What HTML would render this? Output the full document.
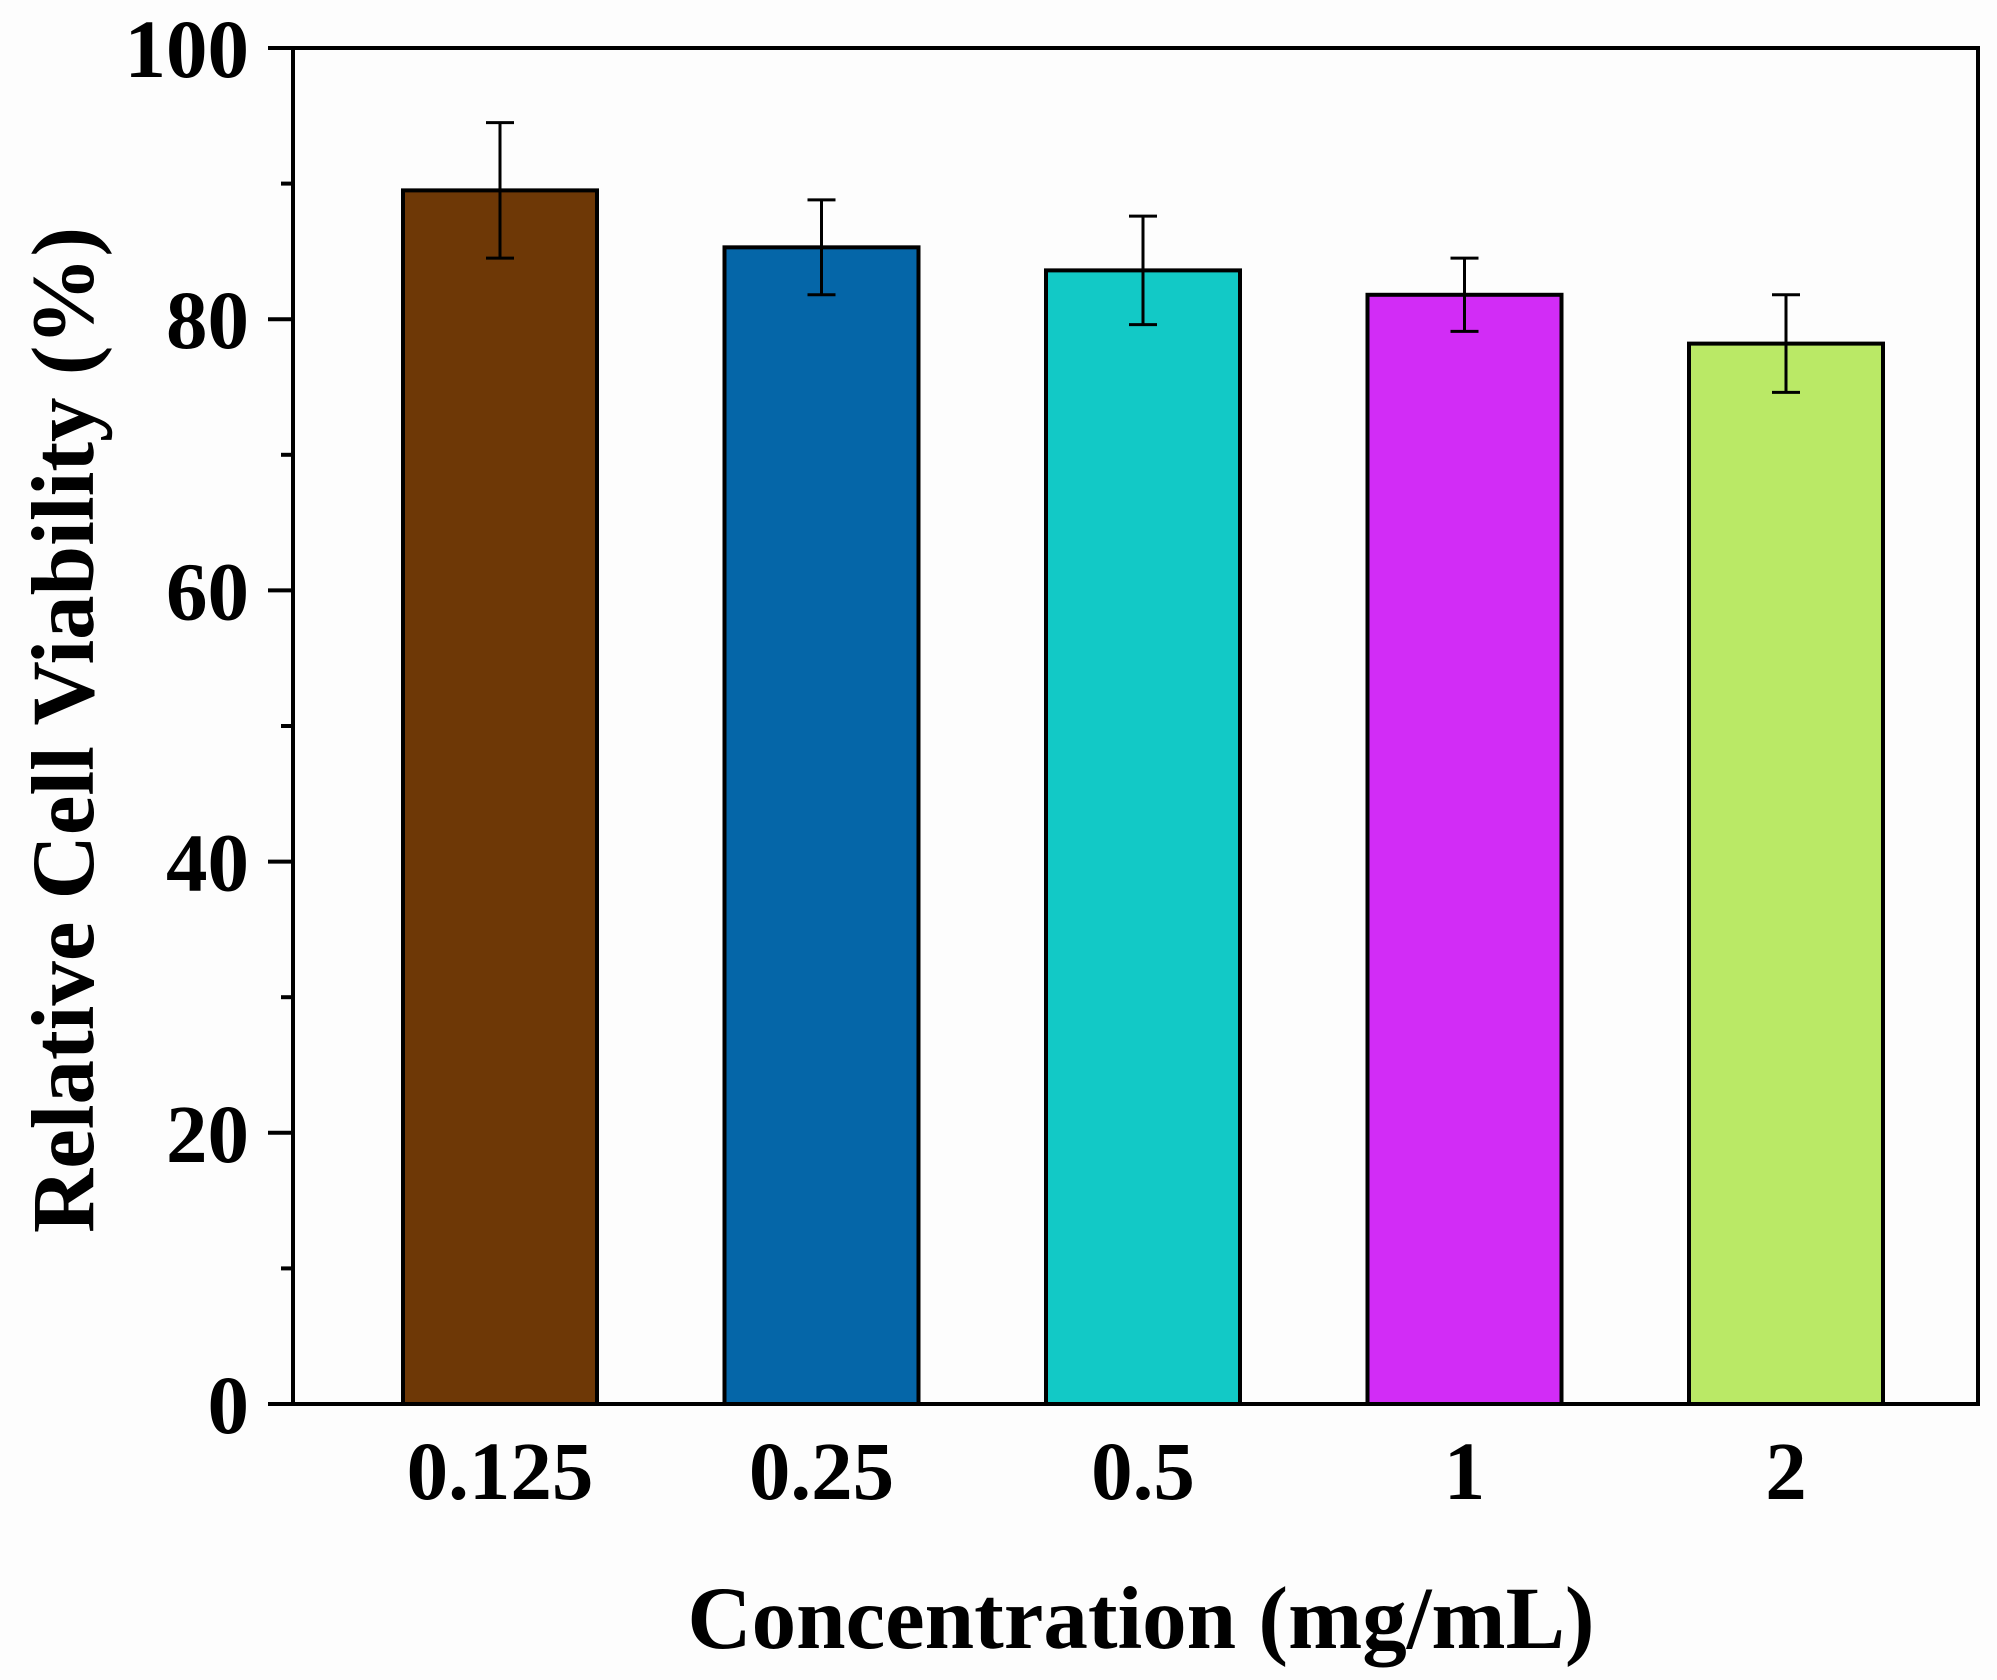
<!DOCTYPE html>
<html><head><meta charset="utf-8"><style>
html,body{margin:0;padding:0;background:#fdfdfd;}
svg{display:block;font-family:"Liberation Serif",serif;font-weight:bold;}
</style></head><body>
<svg id="chart" width="1997" height="1680" viewBox="0 0 1997 1680"></svg>
<script>
const categories = ["0.125","0.25","0.5","1","2"];
const values = [89.5, 85.3, 83.6, 81.8, 78.2];
const errors = [5.0, 3.5, 4.0, 2.7, 3.6];
const colors = ["#6e3806","#0566a8","#12c9c6","#d22cf6","#bae966"];
const yTicks = [0,20,40,60,80,100];
const yMinor = [10,30,50,70,90];

const X0=293, X1=1978, Y0=1404, Y1=48;
const NS="http://www.w3.org/2000/svg";
const svg=document.getElementById('chart');
function y(v){return Y0-(v/100)*(Y0-Y1);}
function xc(i){return 500+i*321.5;}
const BW=194;
function mk(tag,attrs,parent){const e=document.createElementNS(NS,tag);for(const k in attrs)e.setAttribute(k,attrs[k]);(parent||svg).appendChild(e);return e;}

categories.forEach((c,i)=>{
  const r=mk('rect',{x:xc(i)-BW/2,y:y(values[i]),width:BW,height:Y0-y(values[i]),fill:colors[i],stroke:'#000','stroke-width':4});
  
  
  const g=mk('g',{stroke:'#000','stroke-width':3});
  
  
  const t=y(values[i]+errors[i]), b=y(values[i]-errors[i]);
  mk('line',{x1:xc(i),x2:xc(i),y1:t,y2:b},g);
  mk('line',{x1:xc(i)-14,x2:xc(i)+14,y1:t,y2:t},g);
  mk('line',{x1:xc(i)-14,x2:xc(i)+14,y1:b,y2:b},g);
  const lab=mk('text',{x:xc(i),y:1499,'text-anchor':'middle','font-size':83,fill:'#000'});
  lab.textContent=c;
  
  
});
const fr=mk('rect',{x:X0,y:Y1,width:X1-X0,height:Y0-Y1,fill:'none',stroke:'#000','stroke-width':4});


yTicks.forEach(v=>{
  const l=mk('line',{x1:X0-25,x2:X0,y1:y(v),y2:y(v),stroke:'#000','stroke-width':4});
  
  
  const t=mk('text',{x:249,y:y(v)+29,'text-anchor':'end','font-size':83,fill:'#000'});
  t.textContent=v;
  
  
});
yMinor.forEach(v=>{
  const l=mk('line',{x1:X0-12,x2:X0,y1:y(v),y2:y(v),stroke:'#000','stroke-width':4});
  
  
});
const yt=mk('text',{x:0,y:0,transform:'translate(93,730) rotate(-90)','text-anchor':'middle','font-size':89,fill:'#000'});
yt.textContent='Relative Cell Viability (%)';


const xt=mk('text',{x:1141,y:1648,'text-anchor':'middle','font-size':89,fill:'#000'});
xt.textContent='Concentration (mg/mL)';


</script>
</body></html>
